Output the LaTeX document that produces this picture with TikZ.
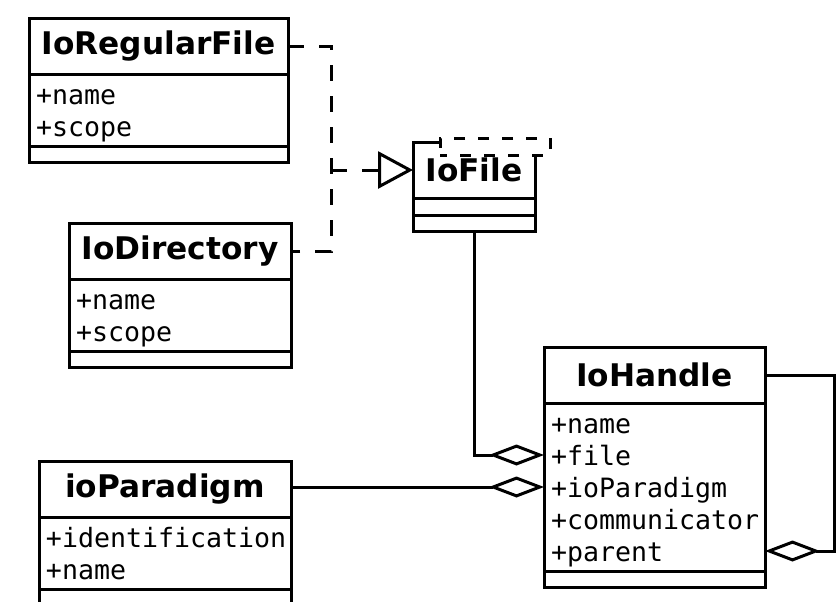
\documentclass[tikz,border=0pt]{standalone}
\usepackage{fontspec}
\setsansfont{DejaVu Sans}
\setmonofont{DejaVu Sans Mono}
\usepackage{tikz}
\usetikzlibrary{arrows.meta}
\usetikzlibrary{positioning}

\newcommand{\classfont}{\sffamily\bfseries\fontsize{15.6}{18}\selectfont}
\newcommand{\memberfont}{\ttfamily\fontsize{13.3}{16}\selectfont}
% member list, set a little low in its compartment
\newcommand{\members}[1]{\raisebox{-1.8pt}[\height][\depth]{\begin{tabular}{@{}l@{}}#1\end{tabular}}}

\tikzset{
    umlbox/.style={draw, line width=1.5pt, fill=white, outer sep=0pt, inner sep=0pt},
    classname/.style={umlbox, anchor=north west, minimum height=28pt, font=\classfont},
    classattr/.style={umlbox, inner xsep=3.5pt, inner ysep=2pt, align=left, font=\memberfont},
    classops/.style={umlbox, minimum height=8pt},
    template/.style={umlbox, dash pattern=on 5.5pt off 6.5pt, dash phase=2pt,
        minimum width=55pt, minimum height=8.5pt, anchor=north west},
    dashline/.style={line width=1.5pt, dash pattern=on 8pt off 7.5pt},
    realize/.style={dashline, -{Triangle[open, length=17.5pt, width=18.5pt]}},
    aggregate/.style={line width=1.5pt, {Diamond[open, length=27.5pt, width=10.5pt]}-},
}

\begin{document}
\begin{tikzpicture}[x=0.5pt,y=-0.5pt]
    \useasboundingbox (0,0) rectangle (837,601);

    % file classes
    \node [classname, minimum width=129.5pt] (regularHead) at (29,18) {IoRegularFile};
    \node [classattr, text width=122.5pt, below=0pt of regularHead] (regularAttr) {\members{+name\\+scope}};
    \node [classops, minimum width=129.5pt, below=0pt of regularAttr] (regularOps) {};

    \node [classname, minimum width=111pt] (dirHead) at (69,223) {IoDirectory};
    \node [classattr, text width=104pt, below=0pt of dirHead] (dirAttr) {\members{+name\\+scope}};
    \node [classops, minimum width=111pt, below=0pt of dirAttr] (dirOps) {};

    \node [classname, minimum width=61pt] (fileHead) at (413,142) {IoFile};
    \node [classops, minimum width=61pt, minimum height=8.5pt, below=0pt of fileHead] (fileAttr) {};
    \node [classops, minimum width=61pt, below=0pt of fileAttr] (fileOps) {};
    \node [template] (fileTemplate) at ([xshift=13.5pt,yshift=2pt]fileHead.north west) {};

    % handle and paradigm
    \node [classname, minimum width=110.5pt] (handleHead) at (544,347) {IoHandle};
    \node [classattr, text width=103.5pt, below=0pt of handleHead] (handleAttr)
        {\members{+name\\+file\\+ioParadigm\\+communicator\\+parent}};
    \node [classops, minimum width=110.5pt, below=0pt of handleAttr] (handleOps) {};

    \node [classname, minimum width=126pt] (paradigmHead) at (39,461) {ioParadigm};
    \node [classattr, text width=119pt, below=0pt of paradigmHead] (paradigmAttr) {\members{+identification\\+name}};
    \node [classops, minimum width=126pt, below=0pt of paradigmAttr] (paradigmOps) {};

    % attachment points
    \coordinate (split) at ([xshift=-41pt]fileHead.west);
    \coordinate (fileIn) at ([yshift=-26pt]handleAttr.north west);
    \coordinate (paradigmIn) at ([yshift=-42pt]handleAttr.north west);
    \coordinate (parentIn) at ([yshift=-74pt]handleAttr.north east);

    % realization
    \draw [dashline] (regularHead.east) -| (split) |- (dirHead.east);
    \draw [realize] (split) -- (fileHead.west);

    % aggregation
    \draw [aggregate] (fileIn) -| (fileOps.south);
    \draw [aggregate] (paradigmIn) -- (paradigmIn -| paradigmHead.east);
    \draw [aggregate] (parentIn) -| ([xshift=34.5pt]handleHead.east) -- (handleHead.east);
\end{tikzpicture}
\end{document}
